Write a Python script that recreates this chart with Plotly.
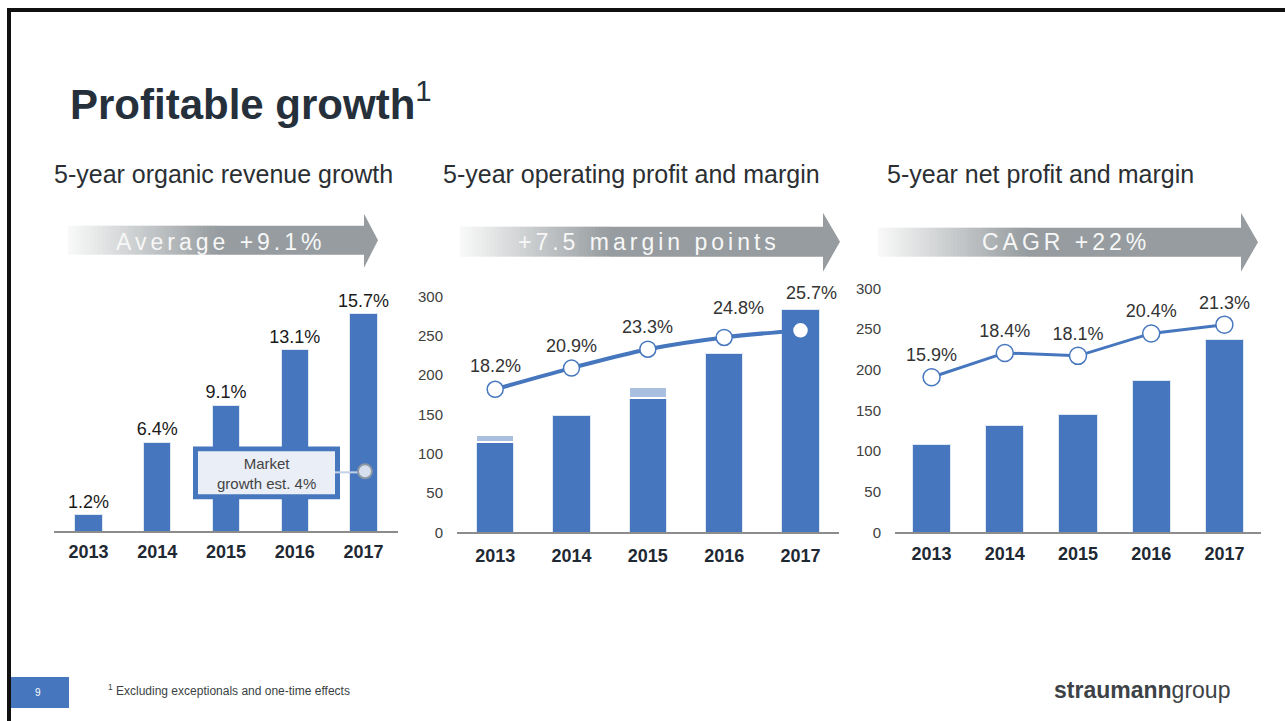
import plotly.graph_objects as go

W, H = 1285, 721

years = ['2013', '2014', '2015', '2016', '2017']
organic_growth = [1.2, 6.4, 9.1, 13.1, 15.7]
op_profit = [115, 148, 171, 228, 284]
op_profit_extra = [9, None, 13, None, None]
op_margin = [18.2, 20.9, 23.3, 24.8, 25.7]
net_profit = [108, 131, 145, 187, 237]
net_margin = [15.9, 18.4, 18.1, 20.4, 21.3]

BLUE = '#4677be'
LIGHT = '#a9bfe0'
FONT = 'Arial, Liberation Sans, sans-serif'

# the page shows the figure 705px tall, 8px down from the top
TOP, VIS = 8, 705


def px(x):
    return x / W


def py(y):
    return 1 - (y - TOP) / VIS


fig = go.Figure()

# chart 1: organic growth
fig.add_trace(go.Bar(x=years, y=organic_growth, xaxis='x', yaxis='y', width=0.4,
                     marker=dict(color=BLUE, line=dict(color='#dfe7f3', width=1)),
                     texttemplate='%{y:.1f}%', textposition='outside', constraintext='none',
                     textfont=dict(size=18, color='#1a1a1a'), cliponaxis=False))

# chart 2: operating profit + margin
fig.add_trace(go.Bar(x=years, y=op_profit, xaxis='x2', yaxis='y2', width=0.49,
                     marker=dict(color=BLUE, line=dict(color='#dfe7f3', width=1))))
fig.add_trace(go.Bar(x=years, y=op_profit_extra, xaxis='x2', yaxis='y2', width=0.49,
                     marker=dict(color=LIGHT, line=dict(color='white', width=1.5))))
fig.add_trace(go.Scatter(x=years, y=op_margin, xaxis='x2', yaxis='y3',
                         mode='lines+markers', line=dict(color=BLUE, width=4, shape='spline'),
                         marker=dict(size=16, color='white', line=dict(color=BLUE, width=1.5)),
                         cliponaxis=False))

# chart 3: net profit + margin
fig.add_trace(go.Bar(x=years, y=net_profit, xaxis='x3', yaxis='y4', width=0.52,
                     marker=dict(color=BLUE, line=dict(color='#dfe7f3', width=1))))
fig.add_trace(go.Scatter(x=years, y=net_margin, xaxis='x3', yaxis='y5',
                         mode='lines+markers+text', line=dict(color=BLUE, width=3),
                         marker=dict(size=17, color='white', line=dict(color=BLUE, width=1.5)),
                         texttemplate='%{y:.1f}%', textposition='top center',
                         textfont=dict(size=18, color='#333333'), cliponaxis=False))

xcommon = dict(type='category', categoryorder='array', categoryarray=years,
               showgrid=False, zeroline=False, showline=True,
               linecolor='#8c8c8c', linewidth=1.5, ticks='',
               tickfont=dict(size=18, color='#1f2933', family=FONT, weight='bold'))
ycommon = dict(showgrid=False, zeroline=False, showline=False)

fig.update_layout(
    width=W, height=H, margin=dict(l=0, r=0, t=0, b=0), autosize=False,
    paper_bgcolor='white', plot_bgcolor='rgba(0,0,0,0)',
    showlegend=False, barmode='stack', font=dict(family=FONT),
    xaxis=dict(domain=[px(54), px(398)], anchor='y', ticklabelstandoff=3, **xcommon),
    yaxis=dict(domain=[py(531), py(281)], range=[0, 18], anchor='x', visible=False, **ycommon),
    xaxis2=dict(domain=[px(457), px(839)], anchor='y2', ticklabelstandoff=6, **xcommon),
    yaxis2=dict(domain=[py(532), py(296)], range=[0, 300], anchor='x2', dtick=50,
                ticks='outside', ticklen=10, tickcolor='rgba(0,0,0,0)',
                tickfont=dict(size=15, color='#404040'), **ycommon),
    yaxis3=dict(domain=[py(532), py(296)], range=[0, 30], overlaying='y2', anchor='x2',
                visible=False, **ycommon),
    xaxis3=dict(domain=[px(895), px(1261)], anchor='y4', ticklabelstandoff=4, **xcommon),
    yaxis4=dict(domain=[py(532), py(288)], range=[0, 300], anchor='x3', dtick=50,
                ticks='outside', ticklen=10, tickcolor='rgba(0,0,0,0)',
                tickfont=dict(size=15, color='#404040'), **ycommon),
    yaxis5=dict(domain=[py(532), py(288)], range=[0, 25], overlaying='y4', anchor='x3',
                visible=False, **ycommon),
)

shapes = []
annotations = []

# operating margin labels, the last two sit higher and to the right
label_dx = [0, 0, 0, 14, 11]
label_dy = [23, 22, 22, 29, 37]
for i, m in enumerate(op_margin):
    annotations.append(dict(xref='x2', yref='y3', x=i, y=m, xshift=label_dx[i],
                            yshift=label_dy[i], showarrow=False, text='%.1f%%' % m,
                            xanchor='center', yanchor='middle',
                            font=dict(size=18, color='#333333', family=FONT)))

# slide frame
shapes.append(dict(type='line', xref='paper', yref='paper', x0=px(7), x1=1, y0=py(9), y1=py(9),
                   line=dict(color='#111111', width=4)))
shapes.append(dict(type='line', xref='paper', yref='paper', x0=px(9), x1=px(9), y0=py(7),
                   y1=py(740), line=dict(color='#111111', width=4)))


def arrow(x0, x1, top, bot, tip, htop, hbot, grad=150, steps=40):
    c0 = (250, 250, 250)
    c1 = (150, 156, 159)
    step = grad / steps
    for i in range(steps):
        t = (i + 0.5) / steps
        c = tuple(int(c0[k] + (c1[k] - c0[k]) * t) for k in range(3))
        shapes.append(dict(type='rect', xref='paper', yref='paper',
                           x0=px(x0 + i * step), x1=px(x0 + (i + 1) * step + 0.6),
                           y0=py(bot), y1=py(top), line=dict(width=0),
                           fillcolor='rgb(%d,%d,%d)' % c))
    xs = x0 + grad
    mid = (top + bot) / 2
    path = 'M {a},{b} L {c},{b} L {c},{d} L {e},{f} L {c},{g} L {c},{h} L {a},{h} Z'.format(
        a=px(xs), b=py(top), c=px(x1), d=py(htop), e=px(tip), f=py(mid), g=py(hbot), h=py(bot))
    shapes.append(dict(type='path', xref='paper', yref='paper', path=path,
                       fillcolor='rgb(%d,%d,%d)' % c1, line=dict(width=0)))


arrow(68, 364, 225, 254, 378, 213, 267)
arrow(460, 823, 226, 256, 840, 212, 271)
arrow(878, 1241, 227, 256, 1258, 212, 271)

arrow_texts = [('Average +9.1%', 221), ('+7.5 margin points', 649), ('CAGR +22%', 1066)]
for txt, cx in arrow_texts:
    annotations.append(dict(xref='paper', yref='paper', x=px(cx), y=py(241),
                            xanchor='center', yanchor='middle', showarrow=False,
                            text='<span style="letter-spacing:4px">%s</span>' % txt,
                            font=dict(size=23, color='#f7f7f7', family=FONT)))

# title and section headings
annotations.append(dict(xref='paper', yref='paper', x=px(68), y=py(100), xanchor='left',
                        yanchor='middle', showarrow=False,
                        text='<b>Profitable growth</b><sup>1</sup>',
                        font=dict(size=42, color='#25303b', family=FONT)))
headings = [('5-year organic revenue growth', 52), ('5-year operating profit and margin', 441),
            ('5-year net profit and margin', 885)]
for txt, x in headings:
    annotations.append(dict(xref='paper', yref='paper', x=px(x), y=py(173), xanchor='left',
                            yanchor='middle', showarrow=False, text=txt,
                            font=dict(size=25, color='#2b2f33', family=FONT)))

# market growth callout
shapes.append(dict(type='rect', xref='paper', yref='paper', x0=px(193), x1=px(340),
                   y0=py(499), y1=py(446), fillcolor=BLUE, line=dict(width=0)))
shapes.append(dict(type='rect', xref='paper', yref='paper', x0=px(198), x1=px(335),
                   y0=py(494), y1=py(451), fillcolor='#e9eef7', line=dict(width=0)))
shapes.append(dict(type='line', xref='paper', yref='paper', x0=px(335), x1=px(358),
                   y0=py(472), y1=py(472), line=dict(color='#c3d1e6', width=2)))
shapes.append(dict(type='circle', xref='paper', yref='paper', x0=px(358), x1=px(372),
                   y0=py(478), y1=py(464), fillcolor='#d6dfed',
                   line=dict(color='#8c97a3', width=2)))
annotations.append(dict(xref='paper', yref='paper', x=px(266), y=py(473), xanchor='center',
                        yanchor='middle', showarrow=False,
                        text='Market<br>growth est. 4%',
                        font=dict(size=15, color='#444444', family=FONT)))

# footer
shapes.append(dict(type='rect', xref='paper', yref='paper', x0=px(11), x1=px(69),
                   y0=py(708), y1=py(677), fillcolor=BLUE, line=dict(width=0)))
annotations.append(dict(xref='paper', yref='paper', x=px(38), y=py(692), xanchor='center',
                        yanchor='middle', showarrow=False, text='9',
                        font=dict(size=10, color='white', family=FONT)))
annotations.append(dict(xref='paper', yref='paper', x=px(106), y=py(690), xanchor='left',
                        yanchor='middle', showarrow=False,
                        text='<sup>1</sup> Excluding exceptionals and one-time effects',
                        font=dict(size=12, color='#3a3f44', family=FONT)))
annotations.append(dict(xref='paper', yref='paper', x=px(1052), y=py(690), xanchor='left',
                        yanchor='middle', showarrow=False,
                        text='<b>straumann</b>group',
                        font=dict(size=23, color='#3d4247', family=FONT)))

fig.update_layout(shapes=shapes, annotations=annotations)

# page body margin would offset the slide, so drop it
fig.write_html('out.html', config={'displayModeBar': False},
               post_script="document.body.style.margin='0';document.body.style.overflow='hidden';")
